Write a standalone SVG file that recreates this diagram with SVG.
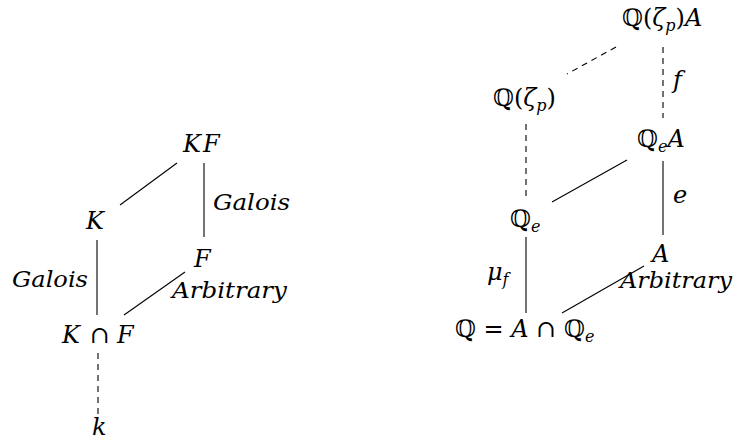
<svg xmlns="http://www.w3.org/2000/svg" width="733" height="441" viewBox="0 0 733 441">
<style>
text{font-family:"DejaVu Serif","Liberation Serif",serif;font-size:24px;fill:#000}
.i{font-style:italic}
.u{font-style:normal}
.s{font-size:16px;font-style:italic}
.lab{font-size:23px}
.e{stroke:#000;stroke-width:1.1;fill:none}
.d{stroke-dasharray:6,5}
</style>
<rect width="733" height="441" fill="#fff"/>
<g id="connectors">
<line class="e" x1="120" y1="205" x2="177" y2="163"/>
<line class="e" x1="204" y1="163" x2="204" y2="237"/>
<line class="e" x1="97" y1="240" x2="97" y2="315"/>
<line class="e" x1="185" y1="272" x2="124" y2="315"/>
<line class="e d" x1="98" y1="353" x2="98" y2="418"/>
<line class="e d" x1="616" y1="47" x2="567" y2="74"/>
<line class="e d" x1="663" y1="47" x2="663" y2="118"/>
<line class="e d" x1="526" y1="124" x2="526" y2="196"/>
<line class="e" x1="627" y1="160" x2="552" y2="202"/>
<line class="e" x1="663" y1="161" x2="663" y2="235"/>
<line class="e" x1="526" y1="237" x2="526" y2="313"/>
<line class="e" x1="644" y1="266" x2="562" y2="313"/>
</g>
<g id="KF"><text class="i" x="183" y="152">K<tspan dx="2">F</tspan></text></g>
<g id="K"><text class="i" x="86" y="229">K</text></g>
<g id="F"><text class="i" x="194" y="267">F</text></g>
<g id="KcapF"><text x="62" y="343"><tspan class="i">K</tspan><tspan class="u" x="90">∩</tspan><tspan class="i" x="117">F</tspan></text></g>
<g id="k"><text class="i" x="92" y="435">k</text></g>
<g id="labels-left">
<text class="i lab" x="213" y="210" textLength="77" lengthAdjust="spacingAndGlyphs">Galois</text>
<text class="i lab" x="12" y="287" textLength="76" lengthAdjust="spacingAndGlyphs">Galois</text>
<text class="i lab" x="172" y="298" textLength="115" lengthAdjust="spacingAndGlyphs">Arbitrary</text>
</g>
<g id="QzetaA"><text x="622" y="26"><tspan class="u">ℚ(</tspan><tspan class="i">ζ</tspan><tspan class="s" dy="5">p</tspan><tspan class="u" dy="-5">)</tspan><tspan class="i">A</tspan></text></g>
<g id="Qzeta"><text x="493" y="106"><tspan class="u">ℚ(</tspan><tspan class="i">ζ</tspan><tspan class="s" dy="5">p</tspan><tspan class="u" dy="-5">)</tspan></text></g>
<g id="QeA"><text x="637" y="147"><tspan class="u">ℚ</tspan><tspan class="s" dy="5">e</tspan><tspan class="i" dy="-5">A</tspan></text></g>
<g id="Qe"><text x="510" y="227"><tspan class="u">ℚ</tspan><tspan class="s" dy="5">e</tspan></text></g>
<g id="A"><text class="i" x="652" y="262">A</text></g>
<g id="Q"><text x="455" y="337"><tspan class="u">ℚ = </tspan><tspan class="i">A</tspan><tspan class="u"> ∩ ℚ</tspan><tspan class="s" dy="5">e</tspan></text></g>
<g id="labels-right">
<text class="i" x="673" y="88">f</text>
<text class="i" x="673" y="203">e</text>
<text x="487" y="280"><tspan class="i">μ</tspan><tspan class="s" dy="5">f</tspan></text>
<text class="i lab" x="620" y="288" textLength="112" lengthAdjust="spacingAndGlyphs">Arbitrary</text>
</g>
</svg>
